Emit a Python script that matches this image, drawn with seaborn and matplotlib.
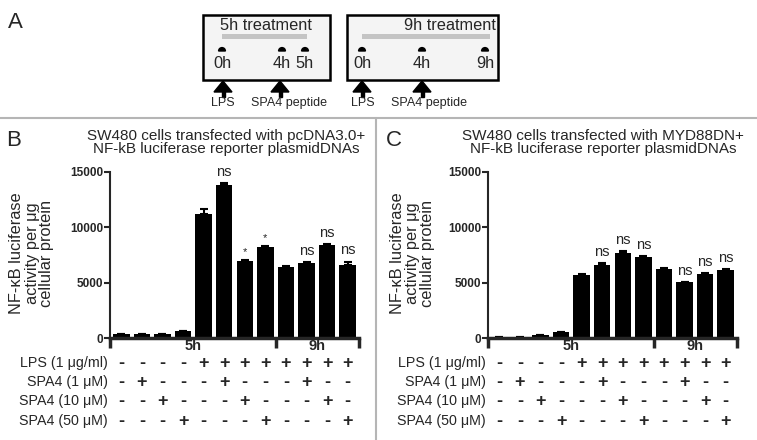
import numpy as np
import pandas as pd
import seaborn as sns
import matplotlib.pyplot as plt
from matplotlib.patches import Rectangle, Wedge, Polygon

# Data
lanes = list(range(12))
pcdna_vals = [350, 350, 350, 650, 11200, 13850, 7000, 8250, 6450, 6750, 8400, 6580]
pcdna_err = [0, 0, 0, 0, 480, 150, 80, 80, 60, 80, 80, 330]
pcdna_sig = ['', '', '', '', '', 'ns', '*', '*', '', 'ns', 'ns', 'ns']
myd88_vals = [100, 100, 250, 500, 5700, 6600, 7680, 7360, 6280, 5030, 5740, 6150]
myd88_err = [0, 0, 0, 0, 60, 150, 200, 60, 80, 60, 120, 100]
myd88_sig = ['', '', '', '', '', 'ns', 'ns', 'ns', '', 'ns', 'ns', 'ns']

row_labels = ['LPS (1 \u03bcg/ml)', 'SPA4 (1 \u03bcM)', 'SPA4 (10 \u03bcM)', 'SPA4 (50 \u03bcM)']
row_marks = ['----++++++++',
             '-+---+---+--',
             '--+---+---+-',
             '---+---+---+']
groups = ['5h', '9h']
group_edges = [-0.55, 7.5, 11.55]
yticks = [0, 5000, 10000, 15000]

sns.set_style('ticks')
plt.rcParams['font.family'] = ['Liberation Sans', 'DejaVu Sans']

W, H = 757, 440
fig = plt.figure(figsize=(W / 100, H / 100), dpi=100)


def box(px_left, px_top, px_w, px_h):
    return [px_left / W, 1 - (px_top + px_h) / H, px_w / W, px_h / H]


# overlay in pixel coordinates for panel A and separators
ov = fig.add_axes([0, 0, 1, 1])
ov.set_xlim(0, W)
ov.set_ylim(H, 0)
ov.axis('off')

ov.plot([0, W], [118, 118], color='#b5b5b5', lw=1.5)
ov.plot([376, 376], [118, H], color='#b5b5b5', lw=1.5)

ov.text(8, 22, 'A', fontsize=16, va='center', ha='left')
ov.text(6, 140, 'B', fontsize=16, va='center', ha='left')
ov.text(386, 140, 'C', fontsize=16, va='center', ha='left')


def timeline(x0, x1, title, title_x, bar, ticks, arrows):
    ov.add_patch(Rectangle((x0, 15), x1 - x0, 65, facecolor='#f4f4f4',
                           edgecolor='black', lw=1.8))
    ov.text(title_x, 25, title, fontsize=11.8, ha='center', va='center')
    ov.add_patch(Rectangle((bar[0], 34.5), bar[1] - bar[0], 5,
                           facecolor='#c4c4c4', edgecolor='none'))
    for x, lab in ticks:
        ov.add_patch(Wedge((x, 51), 3.4, 180, 360, color='black'))
        ov.text(x, 64, lab, fontsize=11.8, ha='center', va='center')
    for x, lab, lx in arrows:
        ov.add_patch(Polygon([[x - 9, 92], [x + 9, 92], [x, 81]], color='black'))
        ov.add_patch(Rectangle((x - 1.5, 91), 3, 6, color='black'))
        ov.text(lx, 103, lab, fontsize=9, ha='center', va='center')


timeline(203, 330, '5h treatment', 266, (222, 307),
         [(222, '0h'), (282, '4h'), (305, '5h')],
         [(223, 'LPS', 223), (280, 'SPA4 peptide', 289)])
timeline(347, 498, '9h treatment', 450, (362, 490),
         [(362, '0h'), (422, '4h'), (485, '9h')],
         [(362, 'LPS', 363), (422, 'SPA4 peptide', 429)])


def panel(px_left, vals, err, sig, title1, title2, title_x, ylab_x):
    ax = fig.add_axes(box(px_left, 172, 249, 166))
    df = pd.DataFrame({'lane': lanes, 'value': vals})
    sns.barplot(data=df, x='lane', y='value', color='black', width=0.8,
                errorbar=None, edgecolor='black', linewidth=0, ax=ax)
    ax.errorbar(lanes, vals, yerr=[np.zeros(12), err], fmt='none',
                ecolor='black', elinewidth=1.5, capsize=3, capthick=1.5)
    for x, v, e, s in zip(lanes, vals, err, sig):
        if s:
            fs = 10.5 if s == 'ns' else 8
            ax.annotate(s, (x, v + e), xytext=(0, 3 if s == 'ns' else 2),
                        textcoords='offset points', ha='center', va='bottom',
                        fontsize=fs)
    ax.set_xlim(group_edges[0], group_edges[-1])
    ax.set_ylim(0, 15000)
    ax.set_yticks(yticks)
    ax.set_yticklabels([str(t) for t in yticks], fontsize=8.5, fontweight='bold')
    ax.set_xticks(group_edges)
    ax.set_xticklabels([])
    ax.set_xlabel('')
    ax.set_ylabel('')
    ax.tick_params(axis='y', length=4, width=1.5, pad=1)
    ax.tick_params(axis='x', length=7, width=2.5, direction='out')
    ax.spines['left'].set_linewidth(1.5)
    ax.spines['bottom'].set_linewidth(2.5)
    sns.despine(ax=ax)

    tr = ax.get_xaxis_transform()
    for g, a, b in zip(groups, group_edges[:-1], group_edges[1:]):
        ax.text((a + b) / 2, -8 / 166, g, transform=tr, ha='center',
                va='center', fontsize=10.5, fontweight='bold')
    for i, (lab, marks) in enumerate(zip(row_labels, row_marks)):
        ypix = [363, 382, 401, 421][i]
        yf = (338 - ypix) / 166
        ax.text(-0.01, yf, lab, transform=ax.transAxes, ha='right',
                va='center', fontsize=10.3)
        for x, m in zip(lanes, marks):
            ax.text(x, yf, m, transform=tr, ha='center', va='center',
                    fontsize=13 if m == '+' else 13, fontweight='bold')

    fig.text(title_x / W, 1 - 136 / H, title1, ha='center', va='center', fontsize=11)
    fig.text(title_x / W, 1 - 149 / H, title2, ha='center', va='center', fontsize=11)
    fig.text(ylab_x / W, 1 - 253 / H,
             'NF-\u03baB luciferase\nactivity per \u03bcg\ncellular protein',
             rotation=90, ha='center', va='center', fontsize=11.8, linespacing=1.0)
    return ax


panel(110, pcdna_vals, pcdna_err, pcdna_sig,
      'SW480 cells transfected with pcDNA3.0+',
      'NF-kB luciferase reporter plasmidDNAs', 226, 32)
panel(488, myd88_vals, myd88_err, myd88_sig,
      'SW480 cells transfected with MYD88DN+',
      'NF-kB luciferase reporter plasmidDNAs', 603, 412)

fig.savefig('out.png', dpi=100)
